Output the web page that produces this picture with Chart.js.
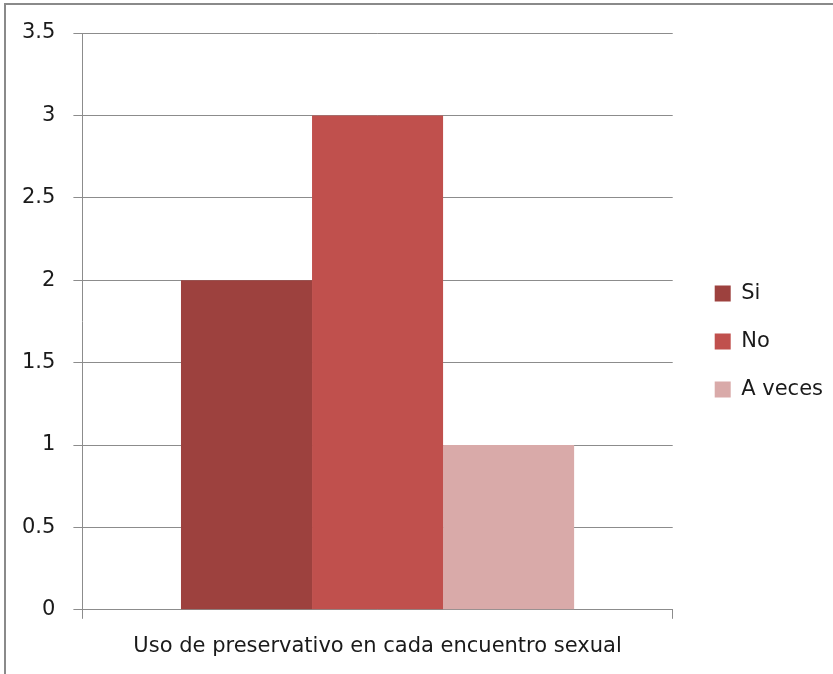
<!DOCTYPE html>
<html>
<head>
<meta charset="utf-8">
<script src="https://cdn.jsdelivr.net/npm/chart.js@4/dist/chart.umd.min.js"></script>
<style>
  html, body { margin: 0; padding: 0; background: #fff; }
  body { width: 833px; height: 674px; overflow: hidden; position: relative; }
  #frame { position: absolute; left: 4px; top: 3px; width: 900px; height: 700px;
           border-left: 2px solid #8a8a8a; border-top: 2px solid #8a8a8a; }
  #wrap { position: absolute; left: 0; top: 0; width: 833px; height: 674px; }
</style>
</head>
<body>
<div id="frame"></div>
<div id="wrap"><canvas id="chart"></canvas></div>
<script>
// categoría y series
const categories = ['Uso de preservativo en cada encuentro sexual'];
const seriesNames = ['Si', 'No', 'A veces'];
const seriesValues = [[2], [3], [1]];
const seriesColors = ['#9d413e', '#c0504d', '#d9aaa9'];
const yTicks = [0, 0.5, 1, 1.5, 2, 2.5, 3, 3.5];

const gridColor = '#8c8c8c';
const font = { family: 'DejaVu Sans', size: 21 };
const legendGap = 15;    // espacio extra entre el área del gráfico y la leyenda
const legendLift = 12;   // la leyenda queda un poco por encima del centro

// ensancha la leyenda y la desplaza para dejar aire a su izquierda
const legendSpacer = {
  id: 'legendSpacer',
  afterInit(chart) {
    const lg = chart.legend;
    const fit = lg.fit;
    lg.fit = function () { fit.call(this); this.width += legendGap; };
  },
  afterLayout(chart) {
    const lg = chart.legend;
    lg.left += legendGap;
    lg.right += legendGap;
    lg.top -= legendLift;
    lg.bottom -= legendLift;
  }
};

const ctx = document.getElementById('chart').getContext('2d');
new Chart(ctx, {
  type: 'bar',
  data: {
    labels: categories,
    datasets: seriesNames.map((name, i) => ({
      label: name,
      data: seriesValues[i],
      backgroundColor: seriesColors[i],
      borderWidth: 0,
      categoryPercentage: 0.666,
      barPercentage: 1
    }))
  },
  options: {
    responsive: true,
    maintainAspectRatio: false,
    animation: false,
    layout: { padding: { left: 4, top: 33, right: 0, bottom: 0 } },
    plugins: {
      tooltip: { enabled: false },
      legend: {
        position: 'right',
        labels: {
          color: '#1a1a1a',
          font: font,
          boxWidth: 16,
          boxHeight: 16,
          padding: 27
        }
      }
    },
    scales: {
      x: {
        grid: {
          offset: true,
          drawOnChartArea: false,
          color: gridColor,
          tickLength: 9
        },
        border: { color: gridColor },
        ticks: { color: '#1a1a1a', font: font, padding: 15 }
      },
      y: {
        min: 0,
        max: 3.5,
        afterBuildTicks: axis => { axis.ticks = yTicks.map(v => ({ value: v })); },
        grid: { color: gridColor, tickLength: 9 },
        border: { color: gridColor },
        ticks: { color: '#1a1a1a', font: font, padding: 18, callback: v => String(v) }
      }
    }
  },
  plugins: [legendSpacer]
});
</script>
</body>
</html>
